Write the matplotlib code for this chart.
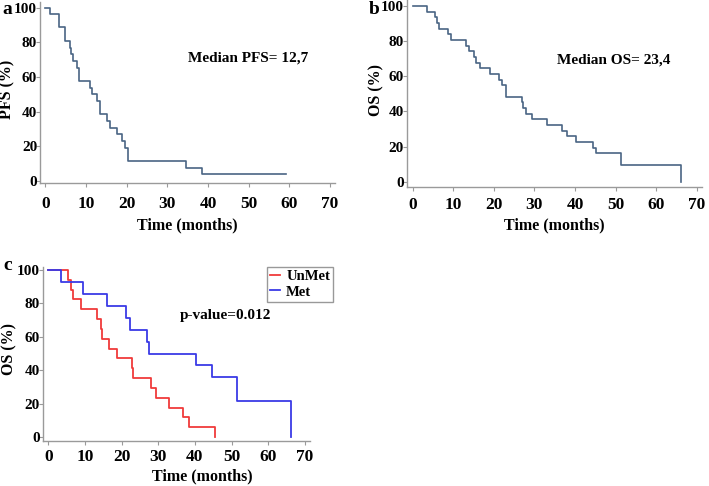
import matplotlib
matplotlib.use("Agg")
import matplotlib.pyplot as plt

# ---------------- data ----------------
pfs_time = [0, 1.1, 3.3, 4.9, 6.0, 6.4, 6.9, 7.7, 8.2, 10.9, 11.5, 12.7, 13.4,
            15.1, 15.9, 17.6, 18.9, 19.5, 20.3, 34.5, 38.6, 59.2]
pfs_surv = [100, 96.2, 88.5, 80.8, 76.9, 73.1, 69.2, 65.4, 57.7, 53.8, 50.0, 46.2,
            38.5, 34.6, 30.8, 26.9, 23.1, 19.2, 11.5, 7.7, 3.8, 3.8]

os_time = [0, 3.5, 5.4, 6.0, 6.6, 8.8, 9.4, 13.1, 13.8, 15.1, 15.6, 16.5, 19.1,
           21.2, 22.0, 23.1, 27.0, 27.3, 27.9, 29.3, 33.0, 36.8, 38.0, 40.3, 44.4,
           45.2, 51.4, 66.0]
os_surv = [100, 96.8, 93.5, 90.3, 87.1, 83.9, 80.6, 77.4, 74.2, 71.0, 67.7, 64.5,
           61.3, 58.1, 54.8, 48.4, 45.2, 41.9, 38.7, 35.5, 32.3, 29.0, 25.8, 22.6,
           19.4, 16.1, 9.7, 0]

unmet_time = [0, 5.5, 6.1, 6.8, 8.9, 13.2, 14.3, 14.8, 16.6, 18.8, 22.9, 23.1,
              27.9, 29.4, 33.0, 36.7, 38.3, 45.4]
unmet_surv = [100, 94.1, 88.2, 82.4, 76.5, 70.6, 64.7, 58.8, 52.9, 47.1, 41.2,
              35.3, 29.4, 23.5, 17.6, 11.8, 5.9, 0]

met_time = [0, 3.5, 9.6, 16.0, 21.2, 22.3, 26.9, 27.4, 40.3, 44.7, 51.4, 66.2]
met_surv = [100, 92.9, 85.7, 78.6, 71.4, 64.3, 57.1, 50.0, 42.9, 35.7, 21.4, 0]

x_ticks = [0, 10, 20, 30, 40, 50, 60, 70]
y_ticks = [0, 20, 40, 60, 80, 100]

# ---------------- style ----------------
FONT = "Liberation Serif"
plt.rcParams["font.family"] = [FONT, "DejaVu Serif"]
plt.rcParams["font.weight"] = "bold"

W, H = 709, 486
fig = plt.figure(figsize=(W / 100, H / 100), dpi=100)

def px_axes(x0, x1, ytop, ybot):
    return fig.add_axes([x0 / W, 1 - ybot / H, (x1 - x0) / W, (ybot - ytop) / H])

GREY = "#9a9a9a"
KM_COL = "#4a6584"

def style(ax, xlim, ylim, xpad, xfs=12.5, yfs=11):
    ax.set_xlim(*xlim)
    ax.set_ylim(*ylim)
    for s in ("top", "right"):
        ax.spines[s].set_visible(False)
    for s in ("left", "bottom"):
        ax.spines[s].set_color(GREY)
        ax.spines[s].set_linewidth(1.0)
    ax.set_xticks(x_ticks)
    ax.set_yticks(y_ticks)
    ax.tick_params(axis="x", direction="out", length=3, color=GREY, pad=xpad,
                   labelsize=xfs)
    ax.tick_params(axis="y", direction="out", length=3, color=GREY, pad=-1,
                   labelsize=yfs)
    for lab in ax.get_xticklabels() + ax.get_yticklabels():
        lab.set_fontweight("bold")

LBL = dict(fontsize=11.5, fontweight="bold")

# ---------------- panel a ----------------
axa = px_axes(40, 335, 2.3, 182.7)
axa.step(pfs_time, pfs_surv, where="post", color=KM_COL, lw=1.2)
style(axa, (-1.3, 71.2), (-1, 103), xpad=6.5)
axa.set_ylabel("PFS (%)", **LBL)
axa.yaxis.set_label_coords(-0.083, 0.52)
axa.set_xlabel("Time (months)", **LBL)
axa.xaxis.set_label_coords(0.5, -0.19)
axa.text(35, 71, "Median PFS= 12,7", fontsize=11, fontweight="bold",
         ha="left", va="center")

# ---------------- panel b ----------------
axb = px_axes(406.5, 701.7, 0, 187)
axb.step(os_time, os_surv, where="post", color=KM_COL, lw=1.2)
style(axb, (-1.5, 71.2), (-3, 103.4), xpad=4)
axb.set_ylabel("OS (%)", **LBL)
axb.yaxis.set_label_coords(-0.074, 0.52)
axb.set_xlabel("Time (months)", **LBL)
axb.xaxis.set_label_coords(0.5, -0.163)
axb.text(35.5, 69.3, "Median OS= 23,4", fontsize=11, fontweight="bold",
         ha="left", va="center")

# ---------------- panel c ----------------
axc = px_axes(42.7, 310, 266.7, 441)
l_un, = axc.step(unmet_time, unmet_surv, where="post", color="#f03a3a", lw=1.3,
                 label="UnMet")
l_met, = axc.step(met_time, met_surv, where="post", color="#3a3ae6", lw=1.3,
                  label="Met")
style(axc, (-1.5, 71.4), (-2.4, 102), xpad=3)
axc.set_ylabel("OS (%)", **LBL)
axc.yaxis.set_label_coords(-0.094, 0.53)
axc.set_xlabel("Time (months)", **LBL)
axc.xaxis.set_label_coords(0.596, -0.155)
axc.text(35.9, 72.5, "p-value=0.012", fontsize=11, fontweight="bold",
         ha="left", va="center")
leg = axc.legend(handles=[l_un, l_met], loc="upper left",
                 bbox_to_anchor=(0.839, 1.0), borderaxespad=0, frameon=True,
                 fancybox=False, edgecolor="#808080", handlelength=0.7,
                 handletextpad=0.4, borderpad=0.22, labelspacing=0.15,
                 prop={"family": FONT, "weight": "bold", "size": 10.5})
leg.get_frame().set_linewidth(1.0)

# ---------------- panel letters ----------------
fig.text(2 / W, 1 - 10 / H, "a", fontsize=14, fontweight="bold", va="center")
fig.text(369 / W, 1 - 10 / H, "b", fontsize=14, fontweight="bold", va="center")
fig.text(3 / W, 1 - 265 / H, "c", fontsize=14, fontweight="bold", va="center")

fig.savefig("out.png", dpi=100)
